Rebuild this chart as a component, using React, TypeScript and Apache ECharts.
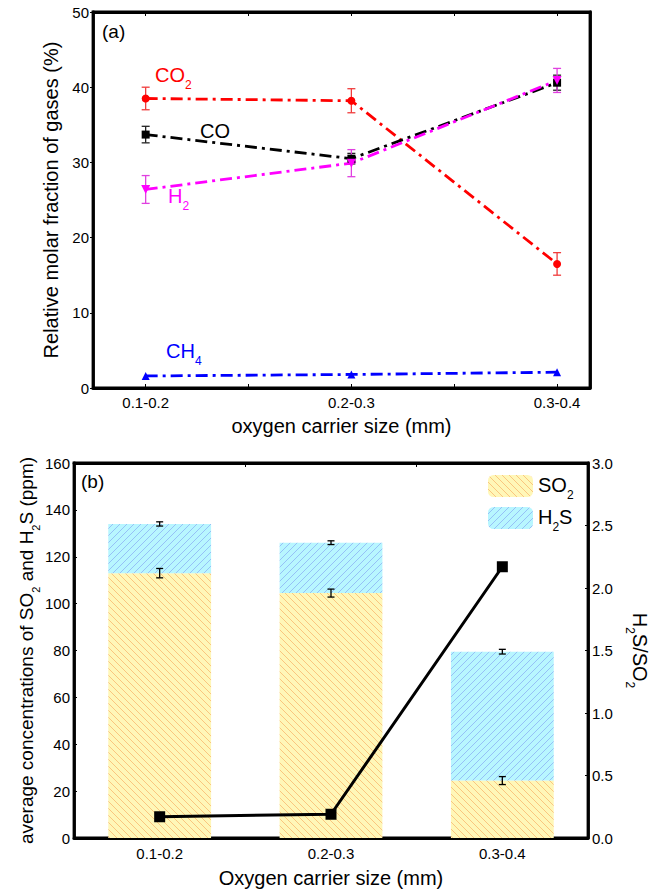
import React, { useEffect, useRef } from "react";
import * as echarts from "echarts";

// ---- data ----
const sizes = ["0.1-0.2", "0.2-0.3", "0.3-0.4"];

const co2 = [38.5, 38.2, 16.5];
const co2Err = [1.5, 1.6, 1.5];
const co = [33.7, 30.5, 40.6];
const coErr = [1.1, 0.7, 1.0];
const h2 = [26.4, 29.9, 40.9];
const h2Err = [1.85, 1.8, 1.6];
const ch4 = [1.6, 1.8, 2.1];

const so2 = [113, 104.5, 24.5];
const so2Err = [2.0, 1.7, 1.7];
const h2s = [21, 21.5, 55];
const totalErr = [0.9, 0.8, 1.0];
const ratio = [0.17, 0.19, 2.17];

const topXTicks = [0, 0.5, 1, 1.5, 2];

const FONT = "Liberation Sans, Arial, sans-serif";

const rich = (color: string, size = 20) => ({
  m: { fontSize: size, fontFamily: FONT, color, lineHeight: size + 2, verticalAlign: "top" },
  s: {
    fontSize: Math.round(size * 0.58),
    fontFamily: FONT,
    color,
    lineHeight: Math.round(size * 0.58),
    verticalAlign: "top",
    padding: [Math.round(size * 0.7), 0, 0, 0],
  },
});

// hatch pattern tile: dir 1 = "\" , dir -1 = "/"
const hatch = (bg: string, line: string, dir: number) => {
  const s = 7;
  const c = document.createElement("canvas");
  c.width = s;
  c.height = s;
  const ctx = c.getContext("2d")!;
  ctx.fillStyle = bg;
  ctx.fillRect(0, 0, s, s);
  ctx.strokeStyle = line;
  ctx.lineWidth = 1;
  for (let k = -1; k <= 1; k++) {
    ctx.beginPath();
    if (dir > 0) {
      ctx.moveTo(k * s, 0);
      ctx.lineTo(k * s + s, s);
    } else {
      ctx.moveTo(k * s, s);
      ctx.lineTo(k * s + s, 0);
    }
    ctx.stroke();
  }
  return { image: c, repeat: "repeat" };
};

const errorBar = (
  xi: number,
  yi: number,
  centers: number[],
  errs: number[],
  color: string,
  half: number
) => ({
  type: "custom",
  xAxisIndex: xi,
  yAxisIndex: yi,
  silent: true,
  z: 5,
  encode: { x: 0, y: [1, 2] },
  data: centers.map((c, i) => [i, c - errs[i], c + errs[i]]),
  renderItem: (_p: any, api: any) => {
    const x = api.value(0);
    const lo = api.coord([x, api.value(1)]);
    const hi = api.coord([x, api.value(2)]);
    const st = { stroke: color, lineWidth: 1.3 };
    return {
      type: "group",
      children: [
        { type: "line", shape: { x1: lo[0], y1: lo[1], x2: hi[0], y2: hi[1] }, style: st },
        { type: "line", shape: { x1: lo[0] - half, y1: lo[1], x2: lo[0] + half, y2: lo[1] }, style: st },
        { type: "line", shape: { x1: hi[0] - half, y1: hi[1], x2: hi[0] + half, y2: hi[1] }, style: st },
      ],
    };
  },
});

const dashDot = [12, 5, 3, 5];

const gasLine = (name: string, vals: number[], color: string, symbol: string, size: number, rotate = 0) => ({
  type: "line",
  name,
  xAxisIndex: 0,
  yAxisIndex: 0,
  data: vals.map((v, i) => [i, v]),
  symbol,
  symbolSize: size,
  symbolRotate: rotate,
  itemStyle: { color },
  lineStyle: { color, width: 2.8, type: dashDot },
  z: 6,
});

export default function App() {
  const ref = useRef<HTMLDivElement>(null);
  useEffect(() => {
    if (!ref.current) return;
    const chart = echarts.init(ref.current, null, { renderer: "svg" });
    const black = "#000";
    const tickLabel = { fontSize: 15, fontFamily: FONT, color: black };
    const axisLine = { show: true, onZero: false, lineStyle: { color: black, width: 2.8 } };
    const so2Fill = hatch("#fff7b8", "rgba(245,150,70,0.5)", 1);
    const h2sFill = hatch("#b8f6ff", "rgba(120,150,240,0.55)", -1);

    const option: any = {
      animation: false,
      backgroundColor: "#fff",
      grid: [
        { left: 93, top: 12, width: 497, height: 376, show: true, borderColor: black, borderWidth: 2.8 },
        { left: 74, top: 463, width: 514, height: 375, show: true, borderColor: black, borderWidth: 2.8 },
      ],
      xAxis: [
        {
          gridIndex: 0,
          type: "value",
          min: -0.256,
          max: 2.16,
          position: "bottom",
          axisLine,
          splitLine: { show: false },
          axisTick: { show: true, inside: true, length: 4, customValues: topXTicks, lineStyle: { color: black } },
          axisLabel: { ...tickLabel, margin: 7, customValues: [0, 1, 2], formatter: (v: number) => sizes[Math.round(v)] ?? "" },
          name: "oxygen carrier size (mm)",
          nameLocation: "middle",
          nameGap: 28,
          nameTextStyle: { fontSize: 20, fontFamily: FONT, color: black },
        },
        {
          gridIndex: 0,
          type: "value",
          min: -0.256,
          max: 2.16,
          position: "top",
          axisLine,
          splitLine: { show: false },
          axisTick: { show: true, inside: true, length: 4, customValues: topXTicks, lineStyle: { color: black } },
          axisLabel: { show: false },
        },
        {
          gridIndex: 1,
          type: "category",
          data: sizes,
          boundaryGap: true,
          position: "bottom",
          axisLine,
          axisTick: { show: true, inside: true, alignWithLabel: true, length: 4, lineStyle: { color: black } },
          axisLabel: { ...tickLabel, margin: 8 },
          name: "Oxygen carrier size (mm)",
          nameLocation: "middle",
          nameGap: 30,
          nameTextStyle: { fontSize: 20, fontFamily: FONT, color: black },
        },
        {
          gridIndex: 1,
          type: "category",
          data: sizes,
          boundaryGap: true,
          position: "top",
          axisLine,
          axisTick: { show: true, inside: true, length: 4, lineStyle: { color: black } },
          axisLabel: { show: false },
        },
      ],
      yAxis: [
        {
          gridIndex: 0,
          type: "value",
          min: 0,
          max: 50,
          interval: 10,
          position: "left",
          axisLine,
          splitLine: { show: false },
          axisTick: { show: true, inside: false, length: 3, lineStyle: { color: black } },
          axisLabel: { ...tickLabel, margin: 4 },
          name: "Relative molar fraction of gases (%)",
          nameLocation: "middle",
          nameGap: 24,
          nameTextStyle: { fontSize: 20, fontFamily: FONT, color: black },
        },
        {
          gridIndex: 0,
          type: "value",
          min: 0,
          max: 50,
          interval: 10,
          position: "right",
          axisLine,
          splitLine: { show: false },
          axisTick: { show: false },
          axisLabel: { show: false },
        },
        {
          gridIndex: 1,
          type: "value",
          min: 0,
          max: 160,
          interval: 20,
          position: "left",
          axisLine,
          splitLine: { show: false },
          axisTick: { show: true, inside: true, length: 3, lineStyle: { color: black } },
          axisLabel: { ...tickLabel, margin: 4 },
          name: "{m|average concentrations of SO}{s|2}{m| and H}{s|2}{m|S (ppm)}",
          nameLocation: "middle",
          nameGap: 36,
          nameMoveOverlap: false,
          nameTextStyle: { fontSize: 19, fontFamily: FONT, color: black, rich: rich(black, 19) },
        },
        {
          gridIndex: 1,
          type: "value",
          min: 0,
          max: 3,
          interval: 0.5,
          position: "right",
          axisLine,
          splitLine: { show: false },
          axisTick: { show: true, inside: true, length: 3, lineStyle: { color: black } },
          axisLabel: { ...tickLabel, margin: 4, formatter: (v: number) => v.toFixed(1) },
          name: "{m|H}{s|2}{m|S/SO}{s|2}",
          nameLocation: "middle",
          nameRotate: -90,
          nameGap: 32,
          nameTextStyle: { fontSize: 20, fontFamily: FONT, color: black, rich: rich(black, 20) },
        },
      ],
      legend: {
        data: ["SO2", "H2S"],
        orient: "vertical",
        left: 483,
        top: 470,
        itemWidth: 45,
        itemHeight: 22,
        itemGap: 6,
        formatter: (n: string) => (n === "SO2" ? "{m|SO}{s|2}" : "{m|H}{s|2}{m|S}"),
        textStyle: { fontSize: 20, fontFamily: FONT, color: black, rich: rich(black, 20) },
      },
      graphic: [
        { type: "text", left: 102, top: 22, style: { text: "(a)", fontSize: 19, fontFamily: FONT, fill: black } },
        { type: "text", left: 81, top: 472, style: { text: "(b)", fontSize: 19, fontFamily: FONT, fill: black } },
        { type: "text", left: 155, top: 65, style: { text: "{m|CO}{s|2}", rich: rich("#ff0000"), fill: "#ff0000" } },
        { type: "text", left: 200, top: 121, style: { text: "{m|CO}", rich: rich("#000000"), fill: black } },
        { type: "text", left: 168, top: 186, style: { text: "{m|H}{s|2}", rich: rich("#ff00ff"), fill: "#ff00ff" } },
        { type: "text", left: 166, top: 341, style: { text: "{m|CH}{s|4}", rich: rich("#0000ff"), fill: "#0000ff" } },
      ],
      series: [
        errorBar(0, 0, co2, co2Err, "#f03c3c", 4),
        errorBar(0, 0, co, coErr, "#222", 4),
        errorBar(0, 0, h2, h2Err, "#e040e0", 4),
        gasLine("CO2", co2, "#ff0000", "circle", 8),
        gasLine("CO", co, "#000000", "rect", 8),
        gasLine("H2", h2, "#ff00ff", "triangle", 9, 180),
        gasLine("CH4", ch4, "#0000ff", "triangle", 8),
        {
          type: "bar",
          name: "SO2",
          xAxisIndex: 2,
          yAxisIndex: 2,
          stack: "s",
          barWidth: "60%",
          data: so2,
          itemStyle: { color: so2Fill },
          z: 2,
        },
        {
          type: "bar",
          name: "H2S",
          xAxisIndex: 2,
          yAxisIndex: 2,
          stack: "s",
          barWidth: "60%",
          data: h2s,
          itemStyle: { color: h2sFill },
          z: 2,
        },
        errorBar(2, 2, so2, so2Err, "#000", 3.5),
        errorBar(2, 2, so2.map((v, i) => v + h2s[i]), totalErr, "#000", 3.5),
        {
          type: "line",
          name: "ratio",
          xAxisIndex: 2,
          yAxisIndex: 3,
          data: ratio,
          symbol: "rect",
          symbolSize: 11,
          itemStyle: { color: black },
          lineStyle: { color: black, width: 3 },
          z: 8,
        },
      ],
    };
    chart.setOption(option);
    return () => chart.dispose();
  }, []);
  return (
    <div
      ref={ref}
      style={{ position: "absolute", left: 0, top: 0, width: 659, height: 891, background: "#fff" }}
    />
  );
}
